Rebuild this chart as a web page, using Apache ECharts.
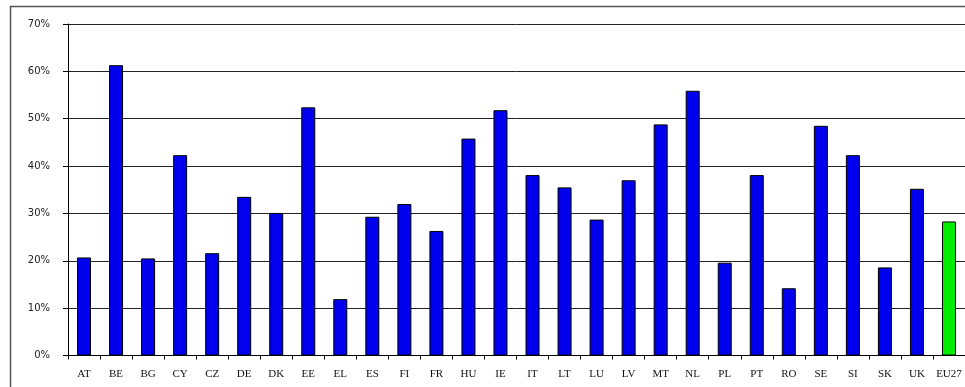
<!DOCTYPE html>
<html>
<head>
<meta charset="utf-8">
<script src="https://cdn.jsdelivr.net/npm/echarts@6/dist/echarts.min.js"></script>
<style>
html,body{margin:0;padding:0;background:#fff;}
#chart{width:965px;height:387px;}
</style>
</head>
<body>
<div id="chart"></div>
<script>
const categories = ['AT','BE','BG','CY','CZ','DE','DK','EE','EL','ES','FI','FR','HU','IE','IT','LT','LU','LV','MT','NL','PL','PT','RO','SE','SI','SK','UK','EU27'];
const values = [20.7,61.3,20.5,42.3,21.6,33.5,30.1,52.4,11.9,29.3,32.0,26.3,45.8,51.8,38.1,35.5,28.7,37.0,48.8,55.9,19.6,38.1,14.2,48.5,42.3,18.6,35.2,28.3];
const highlight = 'EU27';
const yTicks = [0,10,20,30,40,50,60,70];

const chart = echarts.init(document.getElementById('chart'), null, {renderer:'canvas'});
chart.setOption({
  animation:false,
  backgroundColor:'#fff',
  graphic:[{
    type:'rect', silent:true, z:-1,
    shape:{x:10.5,y:6.5,width:1000,height:420},
    style:{fill:'none',stroke:'#555',lineWidth:1.5}
  }],
  grid:{left:68,right:-6,top:24,bottom:31.5,containLabel:false},
  xAxis:{
    type:'category',
    data:categories,
    boundaryGap:true,
    axisLine:{lineStyle:{color:'#000',width:1}},
    axisTick:{show:true,length:4,lineStyle:{color:'#000'}},
    axisLabel:{color:'#111',fontFamily:'Liberation Serif',fontSize:11,margin:13,interval:0}
  },
  yAxis:{
    type:'value',min:0,max:70,interval:10,
    axisLine:{show:true,lineStyle:{color:'#000',width:1}},
    axisTick:{show:true,length:5,lineStyle:{color:'#000'}},
    axisLabel:{color:'#222',fontFamily:'DejaVu Sans',fontSize:10,margin:18,
      formatter:v=>yTicks.includes(v)?v+'%':''},
    splitLine:{show:true,lineStyle:{color:'#222',width:1}}
  },
  series:[{
    type:'bar',
    barWidth:14,
    data:values.map((v,i)=>({
      value:v,
      itemStyle:{color:categories[i]===highlight?'#00EE00':'#0000EE',borderColor:'#000',borderWidth:1}
    }))
  }]
});
</script>
</body>
</html>
